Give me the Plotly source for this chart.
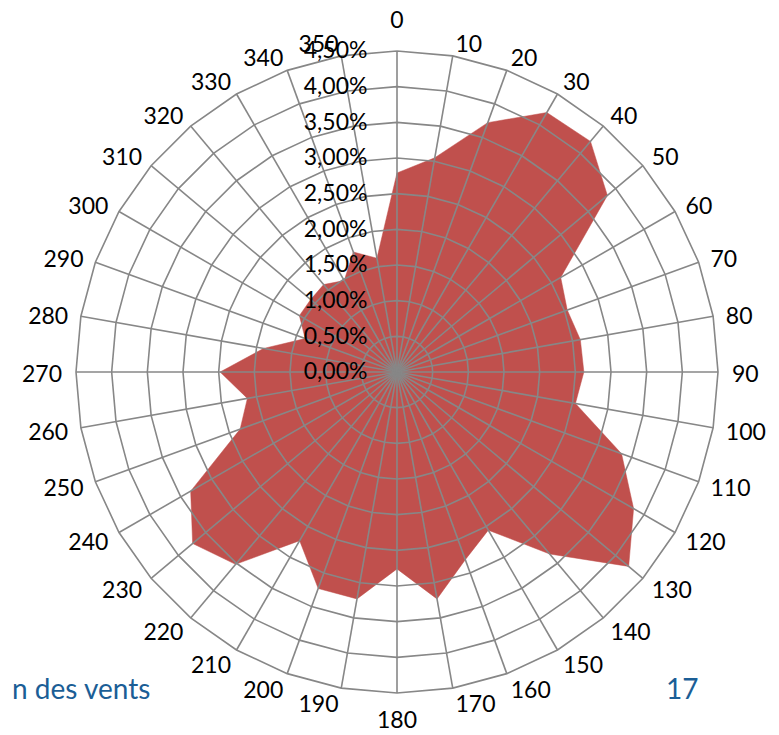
import math
import plotly.graph_objects as go

# Wind direction categories (degrees) and frequencies (fraction)
directions = [0, 10, 20, 30, 40, 50, 60, 70, 80, 90, 100, 110, 120, 130, 140, 150, 160, 170,
              180, 190, 200, 210, 220, 230, 240, 250, 260, 270, 280, 290, 300, 310, 320, 330, 340, 350]
direction_labels = [str(d) for d in directions]
frequency = [0.0279, 0.0305, 0.0372, 0.0420, 0.0422, 0.0385, 0.0265, 0.0254, 0.0261, 0.0262,
             0.0254, 0.0335, 0.0383, 0.0424, 0.0333, 0.0256, 0.0280, 0.0323, 0.0276, 0.0323,
             0.0323, 0.0273, 0.0352, 0.0374, 0.0334, 0.0234, 0.0213, 0.0248, 0.0190, 0.0137,
             0.0158, 0.0158, 0.0160, 0.0148, 0.0179, 0.0162]
radial_ticks = [0.0, 0.005, 0.010, 0.015, 0.020, 0.025, 0.030, 0.035, 0.040, 0.045]

FILL = "#C0504D"
GRID = "#878787"
FONT = "Lato"
BLUE = "#1B5E96"
LABEL_SIZE = 23

W, H = 779, 735
OFF = 8  # page body margin
RMAX = radial_ticks[-1]
R_OUTER = 321                      # pixels for the outer ring (RMAX)
RANGE_MAX = 0.051                  # extra room so the category labels fit inside the polar area
R = R_OUTER * RANGE_MAX / RMAX     # pixel radius of the whole polar area
cx, cy = 397 - OFF, 372 - OFF

fig = go.Figure()

# data polygon
fig.add_trace(go.Scatterpolar(
    r=frequency + frequency[:1],
    theta=directions + directions[:1],
    mode="lines",
    fill="toself",
    fillcolor=FILL,
    line=dict(color=FILL, width=0.5),
    hoverinfo="skip",
    showlegend=False,
))

# grid drawn over the fill (as in the original): rings at each radial tick
for t in radial_ticks[1:]:
    fig.add_trace(go.Scatterpolar(
        r=[t] * (len(directions) + 1),
        theta=directions + directions[:1],
        mode="lines",
        line=dict(color=GRID, width=1.6),
        hoverinfo="skip",
        showlegend=False,
    ))
# spokes
for d in directions:
    fig.add_trace(go.Scatterpolar(
        r=[radial_ticks[0], RMAX],
        theta=[d, d],
        mode="lines",
        line=dict(color=GRID, width=1.6),
        hoverinfo="skip",
        showlegend=False,
    ))

# category labels: Excel-like placement (label box beside an anchor just outside the ring)
label_r, label_t = [], []
for d, lab in zip(directions, direction_labels):
    s = math.sin(math.radians(d))
    c = math.cos(math.radians(d))
    hw = 0.29 * LABEL_SIZE * len(lab)
    if abs(s) < 0.01:
        x, y = 0.0, (354.0 if c > 0 else -346.0)
    elif abs(c) < 0.01:
        x, y = (335.0 + hw) * (1 if s > 0 else -1), 0.0
    else:
        ra = 324 + 8 * abs(s)
        x = ra * s + (hw + 2) * (1 if s > 0 else -1)
        y = ra * c + 10 * c * abs(c)
    y -= 4  # small downward nudge for text centring
    label_r.append(math.hypot(x, y) / R_OUTER * RMAX)
    label_t.append(math.degrees(math.atan2(x, y)) % 360)

fig.add_trace(go.Scatterpolar(
    r=label_r,
    theta=label_t,
    mode="text",
    text=direction_labels,
    textposition="middle center",
    textfont=dict(family=FONT, size=LABEL_SIZE, color="black"),
    cliponaxis=False,
    hoverinfo="skip",
    showlegend=False,
))

fig.update_layout(
    width=W, height=H,
    margin=dict(l=0, r=0, t=0, b=0),
    paper_bgcolor="white",
    plot_bgcolor="white",
    separators=", ",
    font=dict(family=FONT, size=LABEL_SIZE, color="black"),
    polar=dict(
        domain=dict(x=[(cx - R) / W, (cx + R) / W],
                    y=[max(0, (H - cy - R) / H), min(1, (H - cy + R) / H)]),
        bgcolor="rgba(0,0,0,0)",
        gridshape="linear",
        angularaxis=dict(
            direction="clockwise",
            rotation=90,
            tickmode="array",
            tickvals=directions,
            showticklabels=False,
            showgrid=False,
            showline=False,
            ticks="",
        ),
        radialaxis=dict(
            range=[0, RANGE_MAX],
            tickmode="array",
            tickvals=radial_ticks,
            tickformat=".2%",
            angle=90,
            tickangle=90,
            side="counterclockwise",
            showgrid=False,
            showline=False,
            ticks="outside",
            ticklen=21,
            tickcolor="rgba(0,0,0,0)",
            tickfont=dict(family=FONT, size=LABEL_SIZE, color="black"),
        ),
    ),
    annotations=[
        dict(text="n des vents", x=(152 - OFF) / W, y=1 - (688 - OFF) / H, xref="paper", yref="paper",
             xanchor="right", yanchor="middle", showarrow=False,
             font=dict(family=FONT, size=28, color=BLUE)),
        dict(text="17", x=(682 - OFF) / W, y=1 - (688 - OFF) / H, xref="paper", yref="paper",
             xanchor="center", yanchor="middle", showarrow=False,
             font=dict(family=FONT, size=28, color=BLUE)),
    ],
)

fig.write_html("out.html")
